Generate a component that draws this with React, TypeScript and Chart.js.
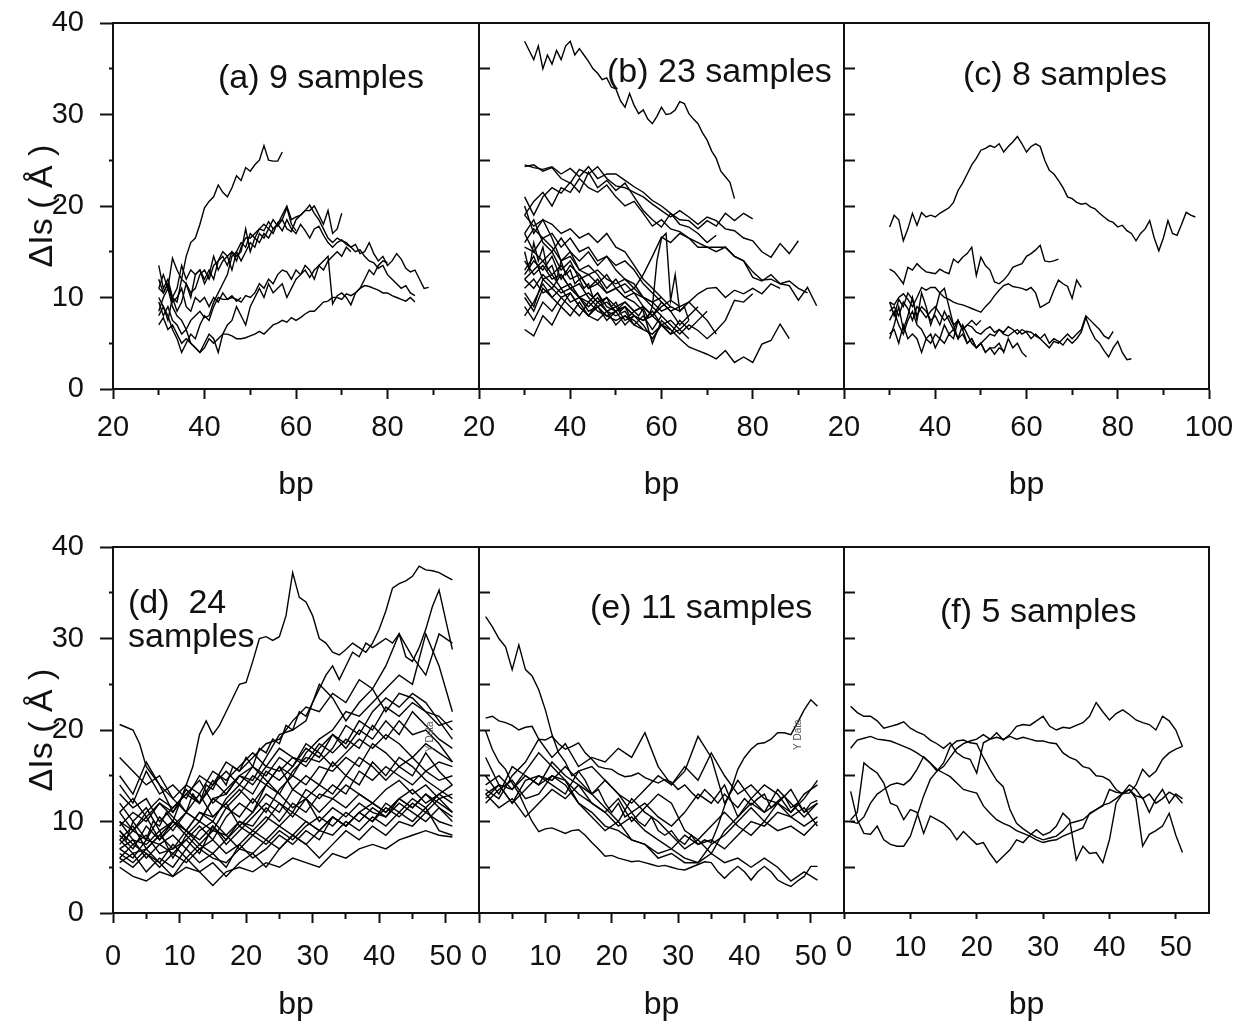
import React, { useEffect, useRef } from 'react';
import { Chart, registerables } from 'chart.js';

Chart.register(...registerables);

// ---------------- tick values and labels ----------------
const TOP_X_MAJOR = [20, 40, 60, 80];
const TOP_X_MAJOR_LAST = [20, 40, 60, 80, 100];
const TOP_X_MINOR = [30, 50, 70, 90];
const BOT_X_MAJOR = [0, 10, 20, 30, 40, 50];
const BOT_X_MINOR = [5, 15, 25, 35, 45];
const Y_MAJOR = [0, 10, 20, 30, 40];
const Y_MINOR = [5, 15, 25, 35];
const Y_INNER = [5, 10, 15, 20, 25, 30, 35];
const X_TITLE = 'bp';
const Y_TITLE = 'ΔIs ( Å )';
const PANEL_LABELS = ['(a) 9 samples', '(b) 23 samples', '(c) 8 samples', '(d)  24', 'samples', '(e) 11 samples', '(f) 5 samples'];
const STRAY_LABEL = 'Y Data';

// ---------------- panel (a): 9 samples, start bp 30, step 1 ----------------
const A1 = [11, 10.5, 11.5, 10, 9.5, 12, 14.5, 16, 16.5, 18, 19.8, 20.5, 21, 22.3, 21.5, 21, 22, 23.3, 22.8, 24.2, 23.8, 24.5, 25, 26.6, 25, 24.9, 24.9, 25.9];
const A2 = [13.5, 11, 12, 10, 8.5, 9.5, 11.5, 10, 12.5, 13, 12, 13, 12, 14, 14.5, 13.5, 15, 14.5, 15, 17.5, 15, 16.5, 16, 17, 16.5, 17.5, 18, 19, 20, 18.5, 18.8, 19, 19.5, 19.5, 20, 19, 18, 19.5, 17, 17.5, 19.2];
const A3 = [8.5, 10, 11, 9, 8, 7.5, 6.5, 7.5, 8, 8.5, 7.8, 8, 9.5, 10.5, 11.5, 12.5, 14.5, 15, 14, 15, 16, 15.5, 17, 16.5, 17.5, 17, 18.2, 18.5, 17.5, 17.2, 18.5, 19, 19.5, 20.1, 19.2, 18.5, 17.5, 16.5, 16, 16.5, 16.2, 16, 15.5, 15.8, 14.8, 15, 16, 14.8, 14, 14.5, 13.5, 14, 14.8, 14.2, 13.2, 12.8, 13, 12, 11, 11.1];
const A4 = [11, 12.5, 11, 14.3, 13, 12, 11.5, 10.5, 11, 12.5, 13, 12, 13.5, 14, 15, 14.5, 15, 14, 15.5, 16.5, 16.5, 17, 17.5, 17.3, 18.3, 17.5, 18, 17.3, 18.5, 17.5, 17, 18, 17.3, 16.5, 17.5, 17.8, 16.8, 16, 15.5, 16, 16.3, 15.8, 15.5, 15, 15.2, 14.5, 14, 13.8, 13.2, 13.5, 12.5, 12, 11.5, 11, 11.3, 10.5, 10.2];
const A5 = [7, 7.8, 6.5, 7, 6, 5, 5.5, 5, 4.5, 4, 4.5, 5.5, 5, 5.5, 6, 6, 5.8, 5.5, 5.5, 5.6, 5.8, 6, 6.3, 6, 6.5, 7, 7.2, 7.5, 7.3, 7.8, 7.5, 7.8, 8.2, 8.5, 8.5, 9, 9.5, 9.6, 10, 10, 9.8, 10.4, 10.2, 10.5, 11, 11.3, 11.2, 11, 10.8, 10.5, 10.5, 10.2, 10, 9.8, 9.6, 10, 9.5];
const A6 = [10, 9, 8, 6.5, 5.5, 4, 5, 6, 5.5, 7, 8, 7.5, 9, 10, 9.8, 9.8, 10, 9.8, 9.5, 10.2, 10, 10.5, 11.5, 11, 12, 11.5, 12.5, 13, 12.8, 12, 13, 12.5, 13, 12.2, 13, 13.5, 14, 14.5, 9.3, 10.2, 10.5, 10, 9.2, 10.5, 11, 12, 13, 12.5, 13.5, 14, 13.8];
const A7 = [9.5, 8, 9, 7.5, 7, 6, 6.5, 5, 4.5, 4, 5, 6, 5.5, 4, 6, 7, 7.5, 9, 8, 7, 9, 10, 11, 10, 11.5, 10.5, 11, 11.5, 10, 11, 12, 12.5, 13.5, 13, 12, 13.5, 13, 14, 14.5, 15, 14.5, 15.5, 15];
const A8 = [12, 10.5, 11.5, 9.5, 10, 11, 9, 8.5, 10, 9.5, 10, 9, 10, 9.5, 10.5, 9.8, 10.2, 9.6, 10];
const A9 = [8, 9, 7.5, 10, 11, 13.5, 12, 13, 12.5, 13, 11.5, 12.5, 14.5, 13, 14, 14.5, 13, 15, 16, 15.5, 17, 16.5, 17.5, 18, 17.5, 18.5, 17.8, 18.5, 19.8, 18, 17.3];

// ---------------- panel (b): 23 samples, start bp 30 ----------------
const B1 = [38, 37, 36, 37.5, 35, 36.5, 35.5, 37, 36, 37.5, 38, 36.5, 37.2, 36.5, 35.8, 35, 34.5, 33.8, 34, 33, 32.8, 31.5, 30.8, 32.3, 31, 30.1, 30.5, 29.5, 29, 29.8, 30.8, 30, 30.1, 30.5, 31.4, 31.2, 30.1, 29.5, 29, 28, 27.2, 26, 25.2, 23.8, 23.2, 22.6, 20.8];
const B2 = [24.5, 24.2, 24, 24.3, 23.5, 24.1, 23.2, 24.3, 23, 23.5, 23.5, 22.8, 22.1, 21.5, 20.6, 20, 19.2, 18.5, 18.4, 17.5, 18.4, 17.8, 19.2, 18.4, 19.2, 18.6];
const B3 = [24.3, 24.5, 23.8, 24.2, 23, 22.5, 24, 23.5, 24.3, 23, 22.2, 22, 21.5, 21, 20.2, 19.5, 18.8, 19.5, 18.8, 18, 18.8, 18.4, 17.5, 17.3, 16.5, 16.2, 15, 14.4, 15.9, 14.8, 16.2];
const B4 = [21, 19, 21, 22, 21.4, 22.6, 21.5, 23.7, 22, 22.8, 21.7, 22.5, 21, 19.5, 18.5, 17.7, 19.2, 18, 17.7, 17, 16, 16.8];
const B5 = [19, 20.5, 21.5, 20, 22, 21.5, 23, 22, 21.5, 22.3, 21, 20, 20.5, 19.2, 17.8, 18.5, 17.5, 17.2, 16.5, 16, 15.5, 15.5, 15.5, 14.5, 14, 12.2, 11.8, 12.5, 11.5, 11.3, 9.7, 11.1, 9.1];
const B6 = [13, 14.5, 12, 12.5, 11, 11.5, 10, 9.5, 10.5, 9, 8.5, 9, 8, 7.5, 8.5, 7, 6.5, 5.5, 4.6, 4.2, 3.8, 3.3, 4.2, 2.9, 3.5, 2.9, 4.9, 5.3, 7.1, 5.5];
const B7 = [10.5, 9, 12, 11, 10, 10.5, 9, 8, 9.5, 8.5, 8, 8.5, 7, 8, 6.5, 8, 7, 6, 7, 6.4, 5.5, 6.4, 7.5, 9.7, 9.5, 10.4];
const B8 = [15, 13, 16, 14, 15.5, 13, 13.5, 12, 14, 12.5, 13, 11.5, 12, 11, 11.5, 10, 10.5, 9.5, 10, 9, 9.5, 8.5, 9, 8, 8.5, 8, 8.8, 7.8, 9, 14, 16.5, 17, 9.7, 12.5, 8.5, 9, 7.5];
const B9 = [17, 15, 16.5, 15.5, 14, 14.5, 13, 12.5, 13, 12, 11.5, 12, 11, 12.5, 14.5, 16.6, 16, 17, 16.5, 15.5, 15.5, 15, 15.5, 14.5, 14, 12.8, 11.9, 12, 11.5, 11.8, 11, 10.5];
const B10 = [12, 11, 12.5, 11.5, 10.5, 11, 10, 10.5, 9.5, 10, 9, 9.5, 8.5, 9, 8, 9, 9.7, 9, 9.5, 10.4, 11, 11.1, 10, 10.8, 10.4, 11, 10.4, 11.5, 11];
const B11 = [17, 18.5, 16, 15, 16.5, 15, 14, 15, 13.5, 14.5, 13, 12, 11.5, 10, 9.5, 8.5, 9];
const B12 = [14, 12.5, 13.5, 12, 12.5, 11, 11.5, 10, 9, 9.5, 8.5, 9, 8, 7.5, 8];
const B13 = [11, 12, 10.5, 11, 12.5, 11, 10, 9, 10, 8.5, 9, 7.5, 8, 7, 5.5, 7, 6, 7.5, 6.5, 7.5, 8.5];
const B14 = [9, 7.5, 9.5, 8.5, 10, 9, 8, 9.5, 8.5, 8, 7.5, 8, 7, 6.5, 6, 7, 6, 6.5, 5.5];
const B15 = [6.5, 5.8, 8, 7, 9, 8, 9.5, 8, 7.5, 8.5, 7, 8, 7.5, 6.5];
const B16 = [20, 17, 18.5, 16.5, 14, 15, 13, 13.5, 12.5, 11, 12, 10.5, 11, 10, 9.5, 10];
const B17 = [16, 17.5, 16.5, 17, 15.5, 16.5, 15, 15.5, 14, 14.5, 13.5, 14, 13, 11.5, 10.5, 9.5, 8.5, 9];
const B18 = [12.5, 14, 13, 14.5, 12, 13.5, 12.5, 11, 11.5, 10.5, 11, 10, 10.5, 9, 8, 9.5, 8.5, 7, 8, 9];
const B19 = [10, 8.5, 11, 10, 9, 10.5, 9, 8, 9, 7.5, 8.5, 7, 8];
const B20 = [19, 17.8, 18.5, 18, 17, 17.5, 16.5, 17, 16, 17, 15.5, 15, 13.5, 12, 11, 10, 9, 8.5, 9.5, 8.5, 7.5, 6];
const B21 = [12, 13, 14, 12.5, 13.5, 12, 12.5, 11, 12, 10.5, 11, 10, 9.5, 8.5, 5, 7.5, 6.5];
const B22 = [15.5, 15, 14, 15, 13, 14, 12, 12.5, 11.5, 12.5, 11, 11.5, 10.5, 10, 9, 8];
const B23 = [8, 9.5, 11.5, 10, 11, 9.5, 10, 8.5, 9, 8, 8.5, 9.5, 8.5, 9, 8, 7, 7.5, 6.5, 7.5];

// ---------------- panel (c): 8 samples, start bp 30, step 1 ----------------
const C1 = [17.7, 19, 18.5, 16.2, 17.5, 19.2, 17.9, 19.3, 18.8, 19, 18.8, 19.2, 19.5, 19.8, 20.4, 21.7, 22.5, 23.5, 24.5, 25.2, 26.1, 26.3, 26.6, 26.4, 26.8, 25.9, 26.5, 27, 27.6, 26.8, 25.9, 26.5, 26.8, 26.5, 25, 23.9, 23.5, 22.8, 22, 21, 20.8, 20.4, 20.2, 20.3, 19.9, 19.7, 19.2, 18.8, 18.4, 18.2, 17.7, 17.9, 17.3, 17, 16.2, 17, 17.5, 18.4, 16.5, 15.1, 16.5, 18.4, 17, 16.8, 18, 19.3, 19, 18.8];
const C2 = [13.1, 12.8, 12.2, 11.5, 13.3, 13, 13.7, 13.2, 12.8, 12.7, 12.6, 13.1, 12.8, 12.6, 14.2, 13.8, 14.4, 14.8, 15.5, 12.4, 14.4, 13.5, 13, 11.7, 11.5, 11.9, 12.5, 13.3, 13.5, 13.7, 14.5, 14.8, 15.2, 15.7, 14, 13.9, 14, 14.2];
const C3 = [9.5, 9.2, 10, 10.4, 9.8, 9, 10, 11.1, 10.8, 11.1, 11.1, 10.5, 10, 9.8, 9.5, 9.3, 9.2, 9, 8.8, 8.6, 8.4, 9, 9.5, 10.2, 10.8, 11.3, 11.5, 11.2, 11.1, 11, 10.8, 11.1, 10.5, 8.9, 9.2, 9.5, 10.8, 11.9, 11.5, 11.2, 9.9, 11.9, 11.1];
const C4 = [8.5, 9, 8, 9.5, 8.8, 7.5, 9, 8.5, 7.8, 8.5, 9, 8.2, 7.5, 8, 7, 7.5, 6.5, 7, 6.8, 6.2, 6, 6.5, 6.8, 6.2, 6.5, 6, 5.8, 6.2, 6.5, 6, 6.3, 6.2, 5.8, 5.5, 6, 5, 5.5, 5.2, 4.8, 5.5, 5, 5.5, 6.2, 7.8, 6.5, 5.5, 5, 4.2, 3.5, 4.5, 5.2, 4, 3.2, 3.3];
const C5 = [6, 6.5, 5, 7, 5.5, 6, 5.5, 4, 5.5, 5, 6, 5.5, 7, 6, 6.5, 5.5, 6, 5, 5.5, 4.5, 5, 5.5, 6, 5.8, 6.5, 6.2, 6.8, 6.5, 6, 6.5, 6.2, 5.5, 6, 5.5, 5, 4.5, 5.2, 5, 5.5, 6, 5.5, 6, 6.5, 8, 7.5, 7, 6.5, 5.8, 5.5, 6.3];
const C6 = [7.5, 8.5, 7, 6, 7.5, 8.5, 7, 6.5, 5.5, 6, 4.5, 5.5, 5, 6, 5.5, 7.5, 6.5, 5, 5.5, 4.5, 5, 4, 4.5, 4.5, 5, 4, 5.5, 4.5, 5, 4, 3.5];
const C7 = [9.5, 8, 9.8, 9, 10.5, 9.8, 8, 9, 8.5, 7.5, 8, 7, 8.5, 7.5, 6.5, 7.5, 6.5, 7, 7.5, 7, 7.5];
const C8 = [5.5, 7, 9, 6.5, 8, 10, 7.5, 10.5, 9, 7, 8.5, 10.5, 11, 9, 7, 5.5, 7, 6, 5, 4.5, 5, 4, 4.5, 3.8, 4.5, 4.2];

// ---------------- panel (d): 24 samples, start bp 1 ----------------
const D1 = [20.6, 20.3, 20, 18.5, 16, 15, 14, 12.5, 11, 12, 14, 16, 19.5, 21, 19.5, 20.5, 22, 23.5, 25, 25.2, 27.5, 30, 30.2, 29.8, 30.2, 32.5, 37.2, 34.5, 34, 32.5, 30, 29.5, 28.5, 28.2, 28.8, 29.5, 29, 28.5, 29.5, 31, 33, 35.5, 36, 36.3, 36.8, 37.9, 37.5, 37.4, 37.2, 36.8, 36.4];
const D2 = [9, 8, 10, 9, 8, 10, 9.5, 11, 10, 12, 11, 13, 12, 14, 13.5, 15, 14, 16, 15.5, 17, 16, 18, 17.5, 19, 18.5, 20.5, 20, 22, 21.5, 23, 24.5, 26, 27, 25.5, 27, 28.5, 28, 29.5, 29, 29.5, 30, 29.5, 30.5, 28, 27.5, 29, 31, 33.5, 35.3, 32, 28.8];
const D3 = [14, 12, 15.5, 13, 14, 12.5, 15, 14, 16.5, 15.5, 17, 18.5, 19, 21, 22.5, 22, 24, 23, 25.5, 24.5, 27, 30.5, 28, 26, 30.5, 29.5];
const D4 = [8, 9.5, 7, 8.5, 10, 9, 11, 10.5, 12, 13.5, 12, 14, 16, 15, 17.5, 19, 20, 22, 21.5, 23, 24.5, 26, 25, 30.5, 27, 22];
const D5 = [11, 9, 10.5, 8, 9.5, 11, 10, 12.5, 13, 15, 14.5, 17, 19.5, 20, 21, 25, 23.5, 21, 23, 24.5, 22, 24, 23.5, 22, 21.5, 20];
const D6 = [7, 6, 8, 7.5, 6.5, 8, 9.5, 8, 10.5, 12, 11, 14, 13, 15.5, 17, 16.5, 18, 20.5, 19.5, 22, 23.5, 22.5, 24, 23, 21, 19];
const D7 = [17, 15.5, 14, 15, 12.5, 14, 13, 15.5, 14.5, 16, 17.5, 16, 18, 17, 16.5, 18.5, 17.5, 19, 18, 20.5, 19, 21, 19.5, 20, 18.5, 16.5];
const D8 = [10, 8, 7.5, 9, 6, 8.5, 10, 9, 11.5, 10.5, 12.5, 11, 13.5, 15, 14, 16, 15.5, 17, 16, 18.5, 17.5, 16, 17, 15.5, 16.5, 16];
const D9 = [6, 5, 6.5, 5.5, 4, 6, 7.5, 6.5, 8, 9.5, 8.5, 10, 12, 11, 13.5, 12.5, 14, 13, 15.5, 14.5, 16, 15, 14, 15.5, 14.5, 15];
const D10 = [9, 7.5, 8.5, 6.5, 7, 8, 6.5, 9.5, 8, 10, 9.5, 11.5, 10, 12, 11, 13, 12.5, 14, 13, 12, 13.5, 14.5, 13, 14, 12.5, 13];
const D11 = [5.5, 6.5, 4.5, 6, 5, 7, 5.5, 6.5, 5, 7.5, 6, 7, 8.5, 7.5, 9, 8, 10.5, 9.5, 11, 10, 12, 11, 12.5, 11.5, 13, 12];
const D12 = [5, 4, 3.5, 4.5, 4, 5, 4.5, 3, 4.5, 5, 4.5, 5.5, 5, 6, 5.5, 5, 6.5, 6, 7, 7.5, 7, 8, 8.5, 9, 8.5, 8.3];
const D13 = [12, 10, 11.5, 9, 10, 8.5, 7, 8, 6.5, 7.5, 9, 8, 9.5, 11, 10, 9, 10.5, 9.5, 11, 10, 11.5, 10.5, 12, 11, 12.5, 11];
const D14 = [7.5, 9, 8, 10.5, 9, 11, 10, 12.5, 11.5, 13, 15, 14, 16, 13.5, 15, 14, 16.5, 15, 17, 16, 14.5, 16, 15, 17.5, 15.5, 14];
const D15 = [8, 6.5, 7, 5.5, 7.5, 6, 4.5, 5.5, 4, 5.5, 6.5, 5, 7, 8.5, 7.5, 6, 7.5, 9, 8, 9.5, 8.5, 10, 9.5, 11, 10, 9.5];
const D16 = [15, 13, 16.5, 14, 12.5, 11, 13, 10.5, 12, 9.5, 11, 13, 12, 10.5, 12.5, 14, 13, 15, 14, 16.5, 15, 17, 16, 14.5, 13.5, 12.5];
const D17 = [9.5, 11, 10, 12, 10.5, 9, 8, 9.5, 7.5, 9, 10.5, 12, 11, 13.5, 12.5, 11, 12.5, 11.5, 13, 12, 11, 12.5, 11.5, 13, 11.5, 10.5];
const D18 = [6.5, 5.5, 7, 8.5, 7, 9, 11, 10, 12.5, 14, 13, 15.5, 14.5, 16, 18, 17, 19.5, 18.5, 21, 20, 22.5, 21.5, 23, 22, 20.5, 21];
const D19 = [11, 12.5, 10.5, 12, 11, 13.5, 12, 14.5, 13, 15, 16, 14.5, 13, 11.5, 12.5, 10, 11.5, 10.5, 12, 11, 10.5, 12, 11, 10, 11.5, 10];
const D20 = [8.5, 7, 9.5, 8, 10, 9, 7.5, 9, 8.5, 7, 8.5, 7.5, 9, 8, 9.5, 10.5, 9.5, 11, 10, 11.5, 10.5, 12.5, 11.5, 13, 12, 11];
const D21 = [13, 11.5, 12.5, 10, 11.5, 13, 12, 14, 15.5, 14, 16, 15, 17, 16, 18.5, 17.5, 16, 17.5, 19, 18, 19.5, 18.5, 17, 18.5, 17.5, 16.5];
const D22 = [6, 7.5, 6.5, 5, 6.5, 5.5, 7, 6, 5.5, 7, 6.5, 8, 7, 8.5, 7.5, 9, 8.5, 10, 9, 10.5, 9.5, 11, 10, 11.5, 9, 8.5];
const D23 = [10, 9, 11, 12.5, 11.5, 13, 14.5, 12, 13.5, 15, 14, 16, 15.5, 17, 16, 18, 19.5, 18, 20, 19, 21, 19.5, 22, 20.5, 19, 18];
const D24 = [7, 8, 6, 7.5, 8.5, 7, 9, 10, 8.5, 10, 9, 10.5, 9.5, 8.5, 10, 9, 10.5, 9.5, 11, 12, 11, 12.5, 13.5, 12, 13, 14];

// ---------------- panel (e): 11 samples, start bp 1 ----------------
const E1 = [32.4, 31.3, 30, 29.1, 26.6, 29.3, 26.6, 25.9, 24.4, 22.2, 19.5, 17.5, 16.5, 15, 15.5, 14.5, 13, 13.5, 12, 11, 12, 10.5, 11, 10, 9.5, 10.5, 9, 8.5, 9, 8, 7.5, 8.5, 7.5, 8, 7.7, 9.5, 11.7, 13.5, 15.7, 17, 17.9, 18.5, 18.6, 19, 19.7, 19.7, 19.5, 20.8, 22.2, 23.3, 22.6];
const E2 = [21.3, 21.5, 21, 20.8, 20.5, 20, 20.3, 20.4, 19, 18.9, 19.3, 18.5, 17.9, 18.2, 18.6, 17.5, 16.8, 16, 15.8, 15.7, 15.2, 14.9, 15, 15.3, 14.8, 14.5, 14.2, 14.6, 14.3, 13.5, 14, 13.2, 12.5, 13.5, 12.8, 12, 13, 12.2, 11.5, 12.5, 11.8, 12.5, 13, 11.5, 12.2, 12.8, 11.5, 12, 11, 12, 12.3];
const E3 = [19.9, 17.9, 16.5, 15.7, 14.2, 13.1, 11.5, 10, 8.9, 9.2, 9.3, 9, 8.7, 9, 9.1, 8.5, 7.7, 7, 6.2, 6.3, 6, 5.8, 5.6, 5.7, 5.5, 5.3, 5.1, 5.2, 5, 4.8, 4.7, 5, 5.3, 5.6, 5.5, 4.5, 3.8, 4.5, 5.1, 4.5, 3.6, 4.5, 5.1, 4.5, 3.6, 3.2, 2.9, 3.5, 4, 5.1, 5.1];
const E4 = [13, 14, 13.5, 15, 14, 15, 14.5, 12, 11, 9.5, 9, 8, 7.5, 6, 6.5, 5.5, 5.5, 6.5, 5.5, 6, 5, 6, 5, 3.5, 4.5, 3.6];
const E5 = [14, 15, 13.5, 15.5, 17.5, 16, 14.5, 13, 12, 11, 9.5, 10.5, 9, 8, 7, 8.5, 7.5, 8, 7, 8.5, 10, 9.5, 11, 10.5, 9.5, 10.5];
const E6 = [13.5, 12.5, 15, 16.5, 19, 17, 18.5, 16, 17, 16.5, 18, 17, 19.7, 16, 14, 16, 14.5, 17.5, 15, 13, 14, 12.5, 12, 13.5, 11, 12];
const E7 = [12.5, 14, 12, 14.5, 15, 14, 13, 15.5, 16, 14.5, 13, 12, 13.5, 15, 14, 15.5, 19.3, 17, 12, 14.5, 12.5, 11, 12, 10.5, 11.5, 9.5];
const E8 = [15, 13, 16, 15, 14, 16.5, 15, 14, 13, 11.5, 10, 12.5, 11, 10, 8.5, 7, 8, 6.5, 9, 10.5, 12, 11, 13.5, 12, 10.5, 12];
const E9 = [12, 13.5, 14.5, 12.5, 13, 15, 14, 12, 10.5, 9, 10, 8, 7.5, 6.5, 7, 6, 5.5, 7.5, 8.5, 10, 11.5, 10, 12, 11, 13, 14];
const E10 = [17, 14, 12, 13.5, 15, 14.5, 16, 14.5, 13, 14.5, 13, 11, 12, 10.5, 9.5, 11, 13, 12, 14, 10.5, 12.5, 14, 13, 11, 12.5, 14.5];
const E11 = [13, 11.5, 12.5, 10.5, 12, 13.5, 12.5, 14, 12, 11, 12.5, 10, 11.5, 13, 12, 9, 8, 9.5, 11, 9.5, 8.5, 10, 9, 9.5, 8.5, 10];

// ---------------- panel (f): 5 samples, start bp 1, step 1 ----------------
const F1 = [22.6, 21.9, 21.5, 21.5, 21, 20.2, 20.4, 20.6, 20.9, 20.2, 19.8, 19.5, 18.9, 18.5, 18, 18.6, 17.5, 17, 16.8, 15.3, 18.6, 19, 19.7, 18.9, 19.5, 20.4, 20.6, 20.5, 21, 21.5, 20.4, 20, 20.3, 20.2, 20.5, 20.8, 21.5, 23, 22, 21.1, 21.8, 22.2, 21.7, 21.1, 20.8, 20.6, 20, 21.5, 21, 20, 18.2];
const F2 = [18, 18.9, 19.1, 19.3, 19, 18.9, 18.8, 18.5, 18.2, 17.9, 17.5, 17, 16.4, 15.7, 15.3, 14.9, 14.2, 13.5, 13.3, 13.1, 11.7, 10.9, 10.2, 9.8, 9.5, 9, 8.7, 8.4, 8, 7.7, 7.9, 8, 8.4, 8.7, 9, 9.3, 10.9, 11.3, 11.7, 13.5, 13.2, 13.1, 14, 13.5, 12.5, 13, 12, 12.5, 13.2, 12.8, 12];
const F3 = [13.3, 10.2, 8.7, 8.6, 9.5, 8, 7.5, 7.3, 7.3, 8.4, 10.6, 12.8, 14.6, 15.5, 16.4, 18.2, 18.8, 18.9, 18.6, 18.5, 17, 15.7, 14.5, 13.8, 11.3, 9.8, 9.2, 8.7, 8.3, 8, 8.2, 8.4, 9, 9.8, 10, 10.2, 10.8, 11.3, 11.8, 12, 12.5, 13.1, 13.1, 14, 15.7, 14.9, 15.5, 16.8, 17.5, 17.9, 18.2];
const F4 = [10.2, 11, 16.4, 15.8, 15.3, 14.2, 12, 11.7, 10.2, 11.3, 11, 8.7, 10.6, 10.2, 9.8, 9.1, 8, 8.9, 8.2, 7.5, 7.7, 6.5, 5.5, 6.2, 6.9, 8, 7.7, 8.5, 9.1, 8.5, 8.8, 9.5, 10.9, 10.2, 5.8, 7.3, 6.5, 6.6, 5.5, 8, 12, 13.1, 13.5, 12.5, 7.3, 8.6, 9, 9.5, 10.9, 8.5, 6.6];
const F5 = [10, 9.8, 10.5, 12, 13, 13.5, 14, 14.2, 14, 14.6, 15.7, 17.1, 16.4, 15.5, 16, 17, 18, 18.5, 18.8, 19, 19.5, 19, 19.2, 19, 19.3, 19, 19.2, 19, 18.8, 18.8, 18.6, 18.5, 17.5, 17, 16.7, 16, 15.8, 15, 14.9, 14.5, 13.5, 13, 13.5, 12.8, 12.6, 11, 12.5, 13.5, 12, 13, 12.5];

// series = [first bp, bp step, values]
type Series = [number, number, number[]];
const SERIES_A: Series[] = [[30, 1, A1], [30, 1, A2], [30, 1, A3], [30, 1, A4], [30, 1, A5], [30, 1, A6], [30, 1, A7], [30, 1, A8], [30, 1, A9]];
const SERIES_B: Series[] = [[30, 1, B1], [30, 2, B2], [30, 2, B3], [30, 2, B4], [30, 2, B5], [30, 2, B6], [30, 2, B7], [30, 1, B8], [30, 2, B9], [30, 2, B10], [30, 2, B11], [30, 2, B12], [30, 2, B13], [30, 2, B14], [30, 2, B15], [30, 2, B16], [30, 2, B17], [30, 2, B18], [30, 2, B19], [30, 2, B20], [30, 2, B21], [30, 2, B22], [30, 2, B23]];
const SERIES_C: Series[] = [[30, 1, C1], [30, 1, C2], [30, 1, C3], [30, 1, C4], [30, 1, C5], [30, 1, C6], [30, 1, C7], [30, 1, C8]];
const SERIES_D: Series[] = [[1, 1, D1], [1, 1, D2], [1, 2, D3], [1, 2, D4], [1, 2, D5], [1, 2, D6], [1, 2, D7], [1, 2, D8], [1, 2, D9], [1, 2, D10], [1, 2, D11], [1, 2, D12], [1, 2, D13], [1, 2, D14], [1, 2, D15], [1, 2, D16], [1, 2, D17], [1, 2, D18], [1, 2, D19], [1, 2, D20], [1, 2, D21], [1, 2, D22], [1, 2, D23], [1, 2, D24]];
const SERIES_E: Series[] = [[1, 1, E1], [1, 1, E2], [1, 1, E3], [1, 2, E4], [1, 2, E5], [1, 2, E6], [1, 2, E7], [1, 2, E8], [1, 2, E9], [1, 2, E10], [1, 2, E11]];
const SERIES_F: Series[] = [[1, 1, F1], [1, 1, F2], [1, 1, F3], [1, 1, F4], [1, 1, F5]];

// ---------------- layout / style ----------------
const FONT = '"Liberation Sans", Arial, Helvetica, sans-serif';
const INK = '#111111';

type TextItem = { t: string; x: number; y: number; size: number; rot?: boolean; color?: string };
type PanelSpec = {
  canvas: number[]; // left, top, width, height (page px)
  plot: number[]; // left, top, right, bottom (page px)
  xMin: number; xMax: number;
  xMajor: number[]; xMinor: number[];
  xTickLen: number; xLabelPad: number; xTitlePad: number;
  yAxis: boolean; yRightTicks: boolean;
  series: Series[];
  texts: TextItem[];
};

const PANELS: PanelSpec[] = [
  { canvas: [0, 0, 500, 520], plot: [113, 23, 479, 389], xMin: 20, xMax: 100, xMajor: TOP_X_MAJOR, xMinor: TOP_X_MINOR, xTickLen: 10, xLabelPad: 12, xTitlePad: 16, yAxis: true, yRightTicks: true, series: SERIES_A,
    texts: [{ t: PANEL_LABELS[0], x: 218, y: 88, size: 34 }] },
  { canvas: [440, 0, 430, 520], plot: [479, 23, 844, 389], xMin: 20, xMax: 100, xMajor: TOP_X_MAJOR, xMinor: TOP_X_MINOR, xTickLen: 10, xLabelPad: 12, xTitlePad: 16, yAxis: false, yRightTicks: true, series: SERIES_B,
    texts: [{ t: PANEL_LABELS[1], x: 607, y: 82, size: 34 }] },
  { canvas: [800, 0, 439, 520], plot: [844, 23, 1209, 389], xMin: 20, xMax: 100, xMajor: TOP_X_MAJOR_LAST, xMinor: TOP_X_MINOR, xTickLen: 10, xLabelPad: 12, xTitlePad: 16, yAxis: false, yRightTicks: false, series: SERIES_C,
    texts: [{ t: PANEL_LABELS[2], x: 963, y: 85, size: 34 }] },
  { canvas: [0, 520, 500, 505], plot: [113, 547, 479, 913], xMin: 0, xMax: 55, xMajor: BOT_X_MAJOR, xMinor: BOT_X_MINOR, xTickLen: 10, xLabelPad: 17, xTitlePad: 1, yAxis: true, yRightTicks: true, series: SERIES_D,
    texts: [{ t: PANEL_LABELS[3], x: 128, y: 613, size: 34 }, { t: PANEL_LABELS[4], x: 128, y: 647, size: 34 }, { t: STRAY_LABEL, x: 433, y: 752, size: 10, rot: true, color: '#555' }] },
  { canvas: [440, 520, 430, 505], plot: [479, 547, 844, 913], xMin: 0, xMax: 55, xMajor: BOT_X_MAJOR, xMinor: BOT_X_MINOR, xTickLen: 10, xLabelPad: 17, xTitlePad: 1, yAxis: false, yRightTicks: true, series: SERIES_E,
    texts: [{ t: PANEL_LABELS[5], x: 590, y: 618, size: 34 }, { t: STRAY_LABEL, x: 801, y: 750, size: 10, rot: true, color: '#555' }] },
  { canvas: [800, 520, 439, 505], plot: [844, 547, 1209, 913], xMin: 0, xMax: 55, xMajor: BOT_X_MAJOR, xMinor: [], xTickLen: 6, xLabelPad: 12, xTitlePad: 1, yAxis: false, yRightTicks: false, series: SERIES_F,
    texts: [{ t: PANEL_LABELS[6], x: 940, y: 622, size: 34 }] },
];

const toPoints = ([x0, dx, v]: Series) => v.map((y, i) => ({ x: x0 + i * dx, y }));

function buildConfig(p: PanelSpec): any {
  const [cl, ct, cw, ch] = p.canvas;
  const [pl, pt, pr, pb] = p.plot;
  const leftW = pl - cl;
  const bottomH = ct + ch - pb;
  const clearPad = (s: any) => { s.paddingTop = 0; s.paddingBottom = 0; s.paddingLeft = 0; s.paddingRight = 0; };
  const fixW = (w: number) => (s: any) => { s.width = w; clearPad(s); };
  const fixH = (h: number) => (s: any) => { s.height = h; clearPad(s); };
  const useTicks = (vals: number[]) => (s: any) => { s.ticks = vals.map((value) => ({ value })); };
  const border = { display: true, color: INK, width: 2 };
  const tickFont = { family: FONT, size: 29 };

  const scales: any = {
    x: {
      type: 'linear', position: 'bottom', weight: 1, min: p.xMin, max: p.xMax,
      afterBuildTicks: useTicks(p.xMajor), afterFit: fixH(bottomH),
      grid: { drawOnChartArea: false, drawTicks: true, tickLength: p.xTickLen, tickColor: INK, tickWidth: 2 },
      border,
      ticks: { display: true, autoSkip: false, maxRotation: 0, minRotation: 0, padding: p.xLabelPad, color: INK, font: tickFont, callback: (v: any) => String(v) },
      title: { display: true, text: X_TITLE, color: INK, font: { family: FONT, size: 32 }, padding: { top: 0, bottom: p.xTitlePad } },
    },
    xt: {
      type: 'linear', position: 'top', min: p.xMin, max: p.xMax, afterFit: fixH(0),
      grid: { drawOnChartArea: false, drawTicks: false }, border, ticks: { display: false },
    },
    y: {
      type: 'linear', position: 'left', weight: 1, min: 0, max: 40,
      afterBuildTicks: useTicks(Y_MAJOR), afterFit: fixW(leftW),
      grid: { drawOnChartArea: false, drawTicks: p.yAxis, tickLength: 13, tickColor: INK, tickWidth: 2 },
      border,
      ticks: { display: p.yAxis, padding: 16, color: INK, font: tickFont, autoSkip: false },
      title: { display: p.yAxis, text: Y_TITLE, color: INK, font: { family: FONT, size: 34 }, padding: { top: 22, bottom: 0 } },
    },
    yr: {
      type: 'linear', position: 'right', min: 0, max: 40,
      afterBuildTicks: useTicks(Y_INNER), afterFit: fixW(0),
      grid: { drawOnChartArea: false, drawTicks: p.yRightTicks, tickLength: 11, tickColor: INK, tickWidth: 2 },
      border, ticks: { display: false },
    },
  };
  if (p.xMinor.length) {
    scales.xm = {
      type: 'linear', position: 'bottom', weight: 0, min: p.xMin, max: p.xMax,
      afterBuildTicks: useTicks(p.xMinor), afterFit: fixH(0),
      grid: { drawOnChartArea: false, drawTicks: true, tickLength: 6, tickColor: INK, tickWidth: 2 },
      border: { display: false }, ticks: { display: false },
    };
  }
  if (p.yAxis) {
    scales.ym = {
      type: 'linear', position: 'left', weight: 0, min: 0, max: 40,
      afterBuildTicks: useTicks(Y_MINOR), afterFit: fixW(0),
      grid: { drawOnChartArea: false, drawTicks: true, tickLength: 4, tickColor: INK, tickWidth: 2 },
      border: { display: false }, ticks: { display: false },
    };
  }

  const textPlugin = {
    id: 'panelText',
    afterDatasetsDraw(chart: any) {
      const ctx = chart.ctx;
      for (const it of p.texts) {
        ctx.save();
        ctx.font = `${it.size}px ${FONT}`;
        ctx.fillStyle = it.color || INK;
        ctx.textAlign = 'left';
        ctx.textBaseline = 'alphabetic';
        ctx.translate(it.x - cl, it.y - ct);
        if (it.rot) ctx.rotate(-Math.PI / 2);
        ctx.fillText(it.t, 0, 0);
        ctx.restore();
      }
    },
  };

  return {
    type: 'line',
    data: {
      datasets: p.series.map((s, i) => ({
        label: `s${i}`,
        data: toPoints(s),
        borderColor: '#000',
        borderWidth: 1.4,
        pointRadius: 0,
        pointHoverRadius: 0,
        fill: false,
        tension: 0,
        xAxisID: 'x',
        yAxisID: 'y',
      })),
    },
    options: {
      animation: false,
      responsive: false,
      maintainAspectRatio: false,
      devicePixelRatio: 1,
      events: [],
      layout: { autoPadding: false, padding: { left: 0, top: pt - ct, right: cl + cw - pr, bottom: 0 } },
      plugins: { legend: { display: false }, tooltip: { enabled: false }, title: { display: false } },
      scales,
    },
    plugins: [textPlugin],
  };
}

function Panel({ spec }: { spec: PanelSpec }) {
  const ref = useRef<HTMLCanvasElement | null>(null);
  useEffect(() => {
    if (!ref.current) return;
    const chart = new Chart(ref.current, buildConfig(spec));
    return () => chart.destroy();
  }, [spec]);
  const [l, t, w, h] = spec.canvas;
  return (
    <canvas
      ref={ref}
      width={w}
      height={h}
      style={{ position: 'absolute', left: l, top: t, width: w, height: h }}
    />
  );
}

export default function App() {
  return (
    <div style={{ position: 'absolute', left: 0, top: 0, width: 1239, height: 1025, background: '#ffffff', overflow: 'hidden' }}>
      {PANELS.map((p, i) => (
        <Panel key={i} spec={p} />
      ))}
    </div>
  );
}
